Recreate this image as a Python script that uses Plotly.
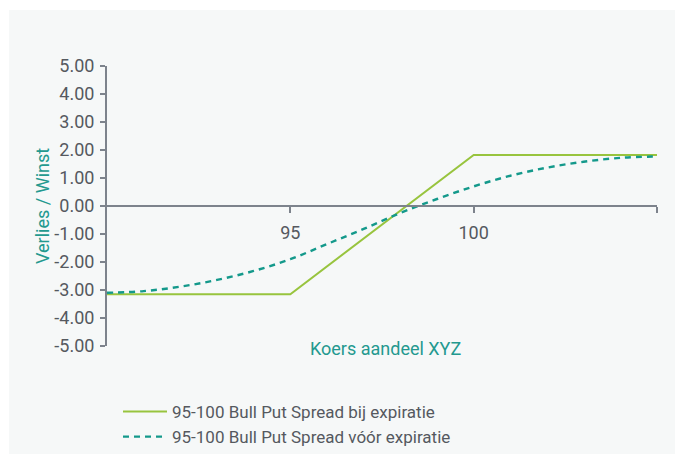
import plotly.graph_objects as go

# Data
x_expiry = [90, 95, 100, 105]
y_expiry = [-3.15, -3.15, 1.82, 1.82]

x_before = [90, 91, 92, 93, 94, 95, 96, 97, 98, 99, 100, 101, 102, 103, 104, 105]
y_before = [-3.10, -3.04, -2.88, -2.64, -2.32, -1.90, -1.36, -0.82, -0.25, 0.25,
            0.70, 1.08, 1.37, 1.58, 1.72, 1.77]

y_ticks = [5, 4, 3, 2, 1, 0, -1, -2, -3, -4, -5]
y_ticktext = ["5.00", "4.00", "3.00", "2.00", "1.00", "0.00", "-1.00", "-2.00", "-3.00", "-4.00", "-5.00"]
x_ticks = [95, 100, 105]
x_ticktext = ["95", "100", ""]

name_expiry = "95-100 Bull Put Spread bij expiratie"
name_before = "95-100 Bull Put Spread vóór expiratie"

GREEN = "#98c43e"
TEAL = "#14998b"
TITLE = "#23998f"
AXIS = "#7d838c"
TXT = "#55595f"
FONT = "Liberation Sans Narrow, Roboto, sans-serif"

fig = go.Figure()
fig.add_trace(go.Scatter(x=x_expiry, y=y_expiry, mode="lines", name=name_expiry,
                         line=dict(color=GREEN, width=2)))
fig.add_trace(go.Scatter(x=x_before, y=y_before, mode="lines", name=name_before,
                         line=dict(color=TEAL, width=2.4, dash="6px,5px", shape="spline")))

# figure-pixel geometry (page adds an 8px body margin)
L, R, T, B = 99, 34, 58, 116
W, H = 683, 454
pw = W - L - R
ph = H - T - B


def px(x):
    return (x - L) / pw


def py(y):
    return (T + ph - y) / ph


fig.add_shape(type="rect", xref="paper", yref="paper",
              x0=px(1), x1=px(W + 5), y0=py(H + 5), y1=py(2),
              fillcolor="#f6f8f8", line=dict(width=0), layer="below")

fig.update_layout(
    width=W, height=H,
    margin=dict(l=L, r=R, t=T, b=B, autoexpand=False),
    paper_bgcolor="white", plot_bgcolor="rgba(0,0,0,0)",
    font=dict(family=FONT, color=TXT, size=18),
    showlegend=True,
    legend=dict(x=px(110), y=py(386), xanchor="left", yanchor="top",
                bgcolor="rgba(0,0,0,0)", font=dict(size=17, color=TXT, family=FONT),
                tracegroupgap=0, itemwidth=44),
    xaxis=dict(range=[90, 105], anchor="free", position=0.5, showgrid=False, zeroline=False,
               showline=True, linecolor=AXIS, linewidth=2,
               ticks="outside", ticklen=6, tickwidth=2, tickcolor=AXIS,
               tickvals=x_ticks, ticktext=x_ticktext, ticklabelstandoff=4,
               tickfont=dict(size=18, color=TXT, family=FONT)),
    yaxis=dict(range=[-5, 5], showgrid=False, zeroline=False,
               showline=True, linecolor=AXIS, linewidth=2,
               ticks="outside", ticklen=5, tickwidth=2, tickcolor=AXIS,
               tickvals=y_ticks, ticktext=y_ticktext, ticklabelstandoff=2,
               tickfont=dict(size=18, color=TXT, family=FONT)),
    annotations=[
        dict(text="Koers aandeel XYZ", xref="paper", yref="paper",
             x=px(377.7), y=py(340), xanchor="center", yanchor="middle",
             showarrow=False, font=dict(size=18, color=TITLE, family=FONT)),
        dict(text="Verlies / Winst", xref="paper", yref="paper",
             x=px(34), y=py(198), xanchor="center", yanchor="middle", textangle=-90,
             showarrow=False, font=dict(size=18, color=TITLE, family=FONT)),
    ],
)

fig.write_html("out.html")
